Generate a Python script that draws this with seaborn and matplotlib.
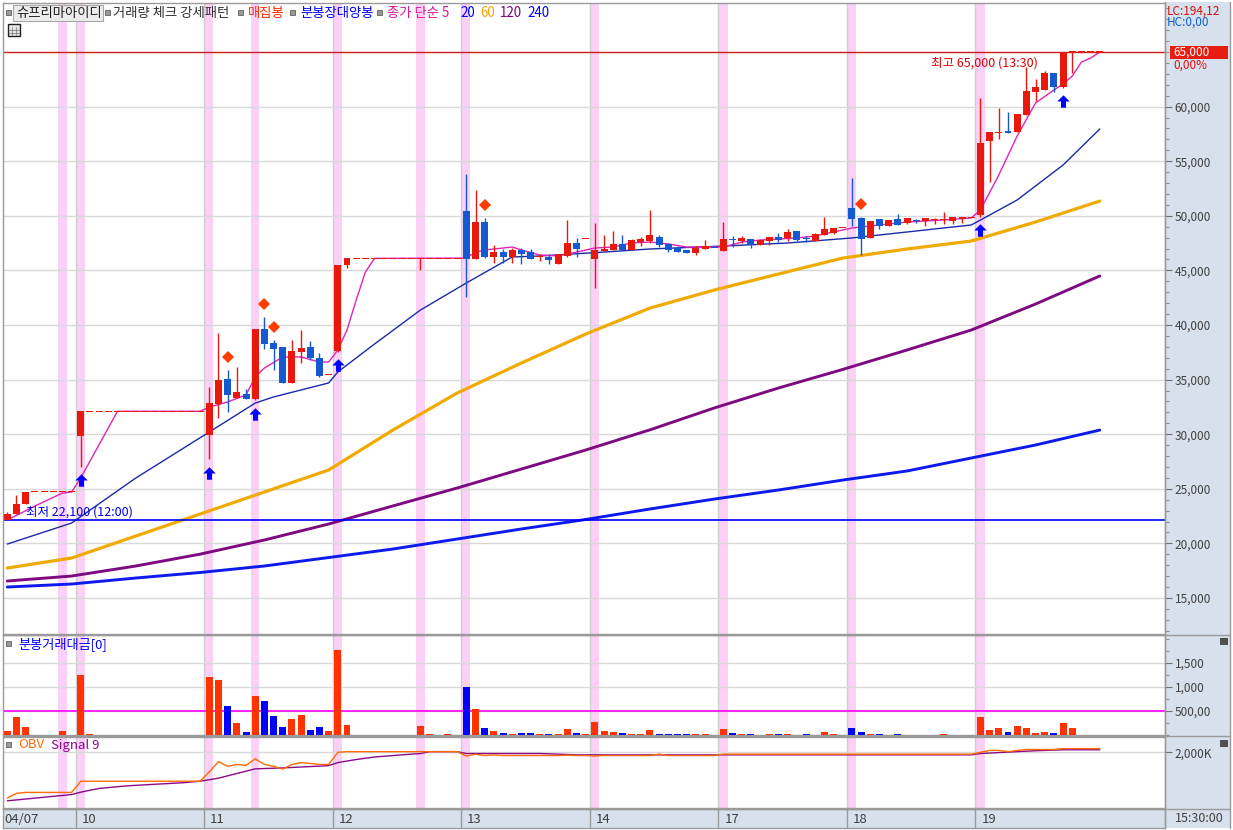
import numpy as np
import matplotlib
matplotlib.use("Agg")
import matplotlib.pyplot as plt
import seaborn as sns
from matplotlib.patches import Rectangle
from matplotlib.lines import Line2D
from matplotlib.path import Path
from matplotlib.ticker import MultipleLocator, FixedLocator
from matplotlib.transforms import offset_copy

# ---------------- data (30-minute bars, 04/07 12:00 -> 04/19 15:30) ----------------
day_labels = ['04/07', '10', '11', '12', '13', '14', '17', '18', '19']
day_start = [0, 8, 22, 36, 50, 64, 78, 92, 106]

opens = ([22100, 22700, 23600] + [24750] * 5 +
         [29850] + [32100] * 13 +
         [29900, 32750, 35050, 33300, 33700, 33200, 39650, 38350, 38000, 34700, 37550, 38000, 37000, 35500] +
         [37600, 45500] + [46100] * 12 +
         [50450, 46050, 49450, 46250, 46700, 46250, 46850, 46700, 46250, 46250, 45600, 46300, 47500, 47900] +
         [46050, 46800, 46850, 47400, 46850, 47600, 47700, 48050, 47400, 47050, 46850, 46600, 46950, 47120] +
         [46800, 47800, 47700, 47900, 47350, 47700, 48050, 47950, 48600, 47900, 47700, 48250, 48400, 48900] +
         [50700, 49800, 47950, 49700, 49050, 49700, 49350, 49600, 49500, 49700, 49700, 49500, 49700, 49800] +
         [50050, 56850, 57650, 57700, 57650, 59250, 61350, 61500, 63100, 61800, 65000, 65000, 65000, 65000])
highs = ([22900, 24400, 24750] + [24750] * 5 +
         [32100] + [32100] * 13 +
         [34300, 39250, 35900, 36150, 34150, 39650, 40750, 38650, 38000, 38650, 39550, 38550, 37450, 35500] +
         [45500, 46100] + [46100] * 12 +
         [53850, 52350, 49800, 47300, 46950, 47050, 47050, 46950, 46500, 46500, 46500, 49600, 47950, 47900] +
         [49350, 48250, 48600, 48250, 47900, 48050, 50550, 48250, 47500, 47250, 46850, 47250, 47800, 47120] +
         [49450, 48150, 48150, 47900, 47850, 48050, 48400, 48800, 48600, 48150, 48400, 49900, 48900, 48900] +
         [53450, 49900, 49500, 49700, 49600, 50150, 49800, 49700, 49800, 49800, 50350, 49900, 49900, 49800] +
         [60800, 57650, 59850, 59500, 59300, 63650, 62550, 63250, 63100, 65000, 65000, 65000, 65000, 65000])
lows = ([22100, 22700, 23600] + [24750] * 5 +
        [27000] + [32100] * 13 +
        [27700, 31500, 32050, 33300, 33200, 33100, 37800, 35900, 34700, 34700, 36500, 36800, 35250, 35500] +
        [37500, 45200] + [46100] * 7 + [45000] + [46100] * 4 +
        [42550, 46050, 46150, 45700, 45700, 45700, 45600, 46050, 45850, 45600, 45600, 46250, 46250, 47900] +
        [43400, 46800, 46850, 46850, 46850, 47250, 47500, 47150, 46700, 46700, 46600, 46400, 46950, 47100] +
        [46800, 47150, 47500, 47050, 47350, 47350, 47600, 47700, 47700, 47600, 47700, 48250, 48300, 48900] +
        [49050, 46400, 47950, 48800, 49050, 49150, 49250, 49350, 49050, 49250, 49250, 49250, 49350, 49800] +
        [49900, 53100, 57050, 57600, 57650, 59250, 60500, 61500, 61350, 61700, 63100, 65000, 65000, 65000])
closes = ([22700, 23600, 24750] + [24750] * 5 +
          [32100] + [32100] * 13 +
          [32850, 34950, 33600, 33850, 33200, 39650, 38250, 37800, 34700, 37600, 37900, 37000, 35350, 35500] +
          [45500, 46100] + [46100] * 12 +
          [46050, 49450, 46250, 46700, 46250, 46850, 46500, 46050, 46250, 45950, 46500, 47500, 46950, 47900] +
          [46850, 46950, 47400, 46850, 47800, 47900, 48250, 47350, 46850, 46700, 46600, 47050, 47250, 47100] +
          [47900, 47770, 47950, 47350, 47800, 48050, 47800, 48500, 47800, 47870, 48350, 48800, 48900, 48900] +
          [49700, 47900, 49500, 49050, 49600, 49150, 49800, 49570, 49800, 49700, 49700, 49900, 49900, 49800] +
          [56650, 57650, 57650, 57650, 59300, 61450, 61800, 63100, 61800, 65000, 65000, 65000, 65000, 65000])

# trade value per bar (백만원)
volume = ([90, 375, 167, 8, 8, 8, 90, 8] +
          [1250, 20] + [8] * 12 +
          [1215, 1145, 604, 250, 62, 820, 708, 396, 167, 333, 417, 104, 167, 90] +
          [1770, 208] + [8] * 7 + [187, 20, 8, 20, 8] +
          [1000, 542, 146, 83, 42, 21, 42, 42, 21, 21, 21, 125, 42, 21] +
          [271, 83, 62, 42, 21, 21, 104, 21, 21, 21, 21, 21, 21, 8] +
          [125, 42, 21, 21, 8, 21, 21, 21, 8, 21, 8, 62, 21, 8] +
          [146, 62, 21, 21, 8, 21, 8, 8, 8, 8, 21, 8, 8, 8] +
          [375, 104, 146, 62, 187, 146, 42, 62, 42, 250, 146, 8, 8, 8])

# moving averages (bar index, price)
ma_idx = [0, 7, 14, 21, 28, 35, 42, 49, 56, 63, 70, 77, 84, 91, 98, 105, 112, 119]
ma60 = [17745, 18660, 20675, 22690, 24705, 26720, 30380, 33770, 36520, 39170, 41550, 43200,
        44670, 46130, 46960, 47690, 49430, 51350]
ma120 = [16555, 17010, 17930, 19015, 20310, 21775, 23430, 25070, 26810, 28550, 30400, 32400,
         34230, 35930, 37710, 39540, 41920, 44490]
ma240 = [16005, 16280, 16830, 17335, 17930, 18705, 19485, 20400, 21320, 22190, 23150, 24060,
         24890, 25800, 26630, 27820, 29010, 30380]
ma20_idx = [0, 7, 14, 22, 27, 29, 35, 36, 40, 45, 50, 55, 58, 65, 70, 78, 85, 92, 100, 105, 106, 110, 115, 119]
ma20 = [19940, 21865, 25990, 30200, 32850, 33410, 34690, 35700, 38260, 41370, 43850, 46230, 46320,
        46680, 46960, 47230, 47510, 47970, 48700, 49160, 49610, 51450, 54650, 57950]
ma5_idx = [0, 3, 6, 7, 8, 12, 21, 22, 24, 26, 27, 28, 30, 32, 34, 35, 36, 37, 38, 39, 40, 50, 51, 52,
           54, 55, 56, 58, 60, 62, 64, 66, 68, 70, 72, 74, 76, 78, 80, 82, 84, 86, 88, 90, 92, 93, 95,
           98, 102, 105, 106, 108, 110, 112, 114, 115, 116, 117, 118, 119]
ma5 = [22140, 23420, 24610, 24700, 26000, 32100, 32100, 32490, 32950, 33590, 35240, 36060, 37070,
       37070, 36610, 36610, 37710, 39540, 42290, 44850, 46100, 46130, 46680, 46870, 47050, 47140,
       46870, 46410, 46320, 46680, 47050, 47140, 47510, 47600, 47420, 47140, 47140, 47140, 47600,
       47780, 47870, 47970, 48150, 48520, 48880, 48970, 49160, 49430, 49620, 49800, 50530, 53740,
       57310, 60330, 61520, 62070, 62800, 64080, 64450, 65000]

# OBV and signal (K)
obv = ([285, 460, 495] + [495] * 5 + [915] * 14 +
       [1265, 1650, 1475, 1545, 1510, 1755, 1545, 1475, 1370, 1545, 1615, 1580, 1545, 1545] +
       [2000] + [2025] * 13 +
       [1860, 1930, 1880, 1905, 1880, 1880, 1880, 1880, 1880, 1880, 1880, 1895, 1880, 1880] +
       [1860, 1880, 1880, 1880, 1880, 1880, 1880, 1930, 1880, 1880, 1880, 1880, 1880, 1880] +
       [1930] * 14 + [1930] * 14 +
       [2000, 2070, 2070, 2025, 2070, 2105, 2105, 2105, 2105, 2140, 2140, 2140, 2140, 2140])
sig_idx = [0, 7, 8, 10, 13, 16, 19, 21, 23, 25, 27, 30, 33, 35, 36, 38, 40, 43, 45, 46, 49, 50,
           58, 62, 105, 106, 108, 110, 112, 115, 119]
signal = [180, 415, 505, 645, 740, 800, 855, 915, 1030, 1205, 1380, 1415, 1465, 1500, 1615, 1730,
          1825, 1905, 1955, 2025, 2025, 1955, 1955, 1905, 1905, 1955, 1990, 2025, 2060, 2095, 2095]

pink_bars = [6, 8, 22, 27, 36, 45, 50, 64, 78, 92, 106]
diamond_bars = [24, 28, 29, 52, 93]
arrow_bars = [8, 22, 27, 36, 106, 115]

# ---------------- style ----------------
sns.set_theme(style="white")
plt.rcParams['font.family'] = ['Noto Sans CJK KR', 'DejaVu Sans']

W, H = 1233, 830
RED_C = '#e8190c'
BLUE_C = '#1458d2'
VOL_R = '#ff3300'
VOL_B = '#0000ff'
PINK = '#fdd0f7'
STRIP = '#d6e1ed'
GRID = '#d9d9d9'
FRAME = '#9a9a9a'
TXT = '#404040'


def box(x0, y0, x1, y1):
    return [x0 / W, 1 - y1 / H, (x1 - x0) / W, (y1 - y0) / H]


def ftext(x, y, s, **kw):
    kw.setdefault('va', 'center')
    fig.text(x / W, 1 - y / H, s, **kw)


fig = plt.figure(figsize=(W / 100, H / 100), dpi=100)
fig.patch.set_facecolor('white')

# right scale strip and panel separators
fig.patches.append(Rectangle((1165 / W, 1 - 828 / H), 65 / W, 826 / H, transform=fig.transFigure,
                             facecolor=STRIP, edgecolor='none', zorder=-5))
for yy in [634.5, 735.5, 808.5]:
    fig.lines.append(Line2D([3 / W, 1230 / W], [1 - yy / H] * 2, transform=fig.transFigure,
                            color=FRAME, lw=1))
fig.lines.append(Line2D([1230 / W] * 2, [1 - 2 / H, 1 - 828 / H], transform=fig.transFigure,
                        color=FRAME, lw=1))
fig.lines.append(Line2D([1165 / W] * 2, [1 - 2 / H, 1 - 828 / H], transform=fig.transFigure,
                        color=FRAME, lw=1))

ax = fig.add_axes(box(3, 3, 1165, 634))
axv = fig.add_axes(box(3, 635, 1165, 735))
axo = fig.add_axes(box(3, 737, 1165, 808))
axx = fig.add_axes(box(3, 809, 1165, 828))

xlim = (-0.47, 126.1)
for a in (ax, axv, axo, axx):
    a.set_xlim(*xlim)
    a.tick_params(axis='x', bottom=False, labelbottom=False)
    for sp in a.spines.values():
        sp.set_color(FRAME)
        sp.set_linewidth(1)
    if a is not axx:
        for b in pink_bars:
            a.axvspan(b - 0.45, b + 0.45, color=PINK, lw=0, zorder=0)
    for d in day_start[1:]:
        a.axvline(d - 0.55, color='#cfcfcf' if a is not axx else '#9a9a9a', lw=1, zorder=0.5)

# ---------------- price panel ----------------
ax.set_ylim(11703, 69487)
ax.yaxis.tick_right()
ax.yaxis.set_major_locator(FixedLocator(list(range(15000, 60001, 5000))))
ax.set_yticklabels([f'{v:,}' for v in range(15000, 60001, 5000)])
ax.yaxis.set_minor_locator(MultipleLocator(1000))
ax.tick_params(axis='y', which='major', direction='out', length=5, width=0.8, color='#707070',
               labelsize=8.5, labelcolor=TXT, pad=2, left=False, right=True)
ax.tick_params(axis='y', which='minor', direction='out', length=3, width=0.8, color='#909090',
               left=False, right=True)
ax.grid(axis='y', which='major', color=GRID, lw=1)
ax.set_axisbelow(True)

sns.lineplot(x=ma_idx, y=ma240, ax=ax, color='#0d1aee', lw=2.1, zorder=2, legend=False)
sns.lineplot(x=ma_idx, y=ma120, ax=ax, color='#7d0a80', lw=2.1, zorder=2, legend=False)
sns.lineplot(x=ma_idx, y=ma60, ax=ax, color='#f0aa00', lw=2.3, zorder=2, legend=False)
sns.lineplot(x=ma20_idx, y=ma20, ax=ax, color='#1a2aa8', lw=1.0, zorder=2, legend=False)
sns.lineplot(x=ma5_idx, y=ma5, ax=ax, color='#e024b8', lw=1.0, zorder=2, legend=False)

ax.axhline(65000, color='#c81e1e', lw=1, zorder=2.5)
ax.axhline(22100, color='#0000ff', lw=1.2, zorder=2.5)

o = np.array(opens, dtype=float)
h = np.array(highs, dtype=float)
l = np.array(lows, dtype=float)
c = np.array(closes, dtype=float)
idx = np.arange(len(o))
cols = np.where(c < o, BLUE_C, RED_C)
body_h = np.maximum(np.abs(c - o), 95)
body_b = np.where(np.abs(c - o) < 95, (o + c) / 2 - 47, np.minimum(o, c))
ax.vlines(idx, l, h, colors=cols, lw=1, zorder=3)
ax.bar(idx, body_h, bottom=body_b, width=0.76, color=cols, lw=0, zorder=4)

arrow = Path([(0, 1), (-1, 0), (-0.4, 0), (-0.4, -1), (0.4, -1), (0.4, 0), (1, 0), (0, 1)])
tr_dn = offset_copy(ax.transData, fig=fig, x=0, y=-9.5, units='points')
tr_up = offset_copy(ax.transData, fig=fig, x=0, y=9.5, units='points')
ax.plot(arrow_bars, l[arrow_bars], ls='none', marker=arrow, ms=9, color='#0000ff', mew=0,
        transform=tr_dn, zorder=5)
ax.plot(diamond_bars, h[diamond_bars], ls='none', marker='D', ms=6, color='#ff3c00', mew=0,
        transform=tr_up, zorder=5)

ax.annotate('최고 65,000 (13:30)', xy=(115, 65000), xytext=(-18, -3), textcoords='offset points',
            ha='right', va='top', color='#e00000', fontsize=9)
ax.annotate('최저 22,100 (12:00)', xy=(2.0, 22100), xytext=(0, 1.5), textcoords='offset points',
            ha='left', va='bottom', color='#0000e0', fontsize=9)

# ---------------- volume panel ----------------
axv.set_ylim(0, 2080)
vcols = np.where(c < o, VOL_B, VOL_R)
axv.bar(idx, volume, width=0.76, color=vcols, lw=0, zorder=3)
axv.axhline(500, color='#ff00ff', lw=1.2, zorder=2)
axv.yaxis.tick_right()
axv.set_yticks([500, 1000, 1500])
axv.set_yticklabels(['500,00', '1,000', '1,500'])
axv.yaxis.set_minor_locator(MultipleLocator(250))
axv.tick_params(axis='y', which='major', direction='out', length=5, width=0.8, color='#707070',
                labelsize=8.5, labelcolor=TXT, pad=2, left=False, right=True)
axv.tick_params(axis='y', which='minor', direction='out', length=3, width=0.8, color='#909090',
                left=False, right=True)
axv.grid(axis='y', which='major', color=GRID, lw=1)
axv.set_axisbelow(True)

# ---------------- OBV panel ----------------
axo.set_ylim(-90, 2575)
sns.lineplot(x=sig_idx, y=signal, ax=axo, color='#8a0a8a', lw=1.0, zorder=3, legend=False)
sns.lineplot(x=idx, y=obv, ax=axo, color='#ff6a00', lw=1.0, zorder=3, legend=False)
axo.yaxis.tick_right()
axo.set_yticks([2000])
axo.set_yticklabels(['2,000K'])
axo.tick_params(axis='y', which='major', direction='out', length=5, width=0.8, color='#707070',
                labelsize=8.5, labelcolor=TXT, pad=2, left=False, right=True)
axo.grid(axis='y', which='major', color=GRID, lw=1)
axo.set_axisbelow(True)

for a in (ax, axv, axo):
    a.set_xlabel('')
    a.set_ylabel('')

# ---------------- date strip ----------------
axx.set_facecolor(STRIP)
axx.set_ylim(0, 1)
axx.set_yticks([])
for d, lab in zip(day_start, day_labels):
    axx.text(d + 0.1 if d else -0.3, 0.45, lab, ha='left', va='center', fontsize=9.5, color=TXT)
ftext(1175, 818, '15:30:00', fontsize=9, color=TXT)

# ---------------- header / right strip texts ----------------
def square(x, y):
    fig.patches.append(Rectangle((x / W, 1 - (y + 5) / H), 5 / W, 5 / H, transform=fig.transFigure,
                                 facecolor='#9a9a9a', edgecolor='#606060', lw=0.6, zorder=6))


HF = 9.6
square(6, 10)
fig.patches.append(Rectangle((13 / W, 1 - 21 / H), 90 / W, 16 / H, transform=fig.transFigure,
                             facecolor='#ececec', edgecolor='#a8a8a8', lw=0.8, zorder=6))
ftext(16, 13, '슈프리마아이디', fontsize=HF, color='#202020', zorder=7)
square(105, 10)
ftext(113, 13, '거래량 체크 강세패턴', fontsize=HF, color='#303030', zorder=7)
square(238, 10)
ftext(248, 13, '매집봉', fontsize=HF, color='#ff2a00', zorder=7)
square(290, 10)
ftext(300, 13, '분봉장대양봉', fontsize=HF, color='#0000ff', zorder=7)
square(377, 10)
ftext(387, 13, '종가 단순 5', fontsize=HF, color='#e0159a', zorder=7)
ftext(460, 13, '20', fontsize=HF, color='#0000ff', zorder=7)
ftext(480, 13, '60', fontsize=HF, color='#f0a000', zorder=7)
ftext(500, 13, '120', fontsize=HF, color='#800080', zorder=7)
ftext(527, 13, '240', fontsize=HF, color='#0000ff', zorder=7)

# small table icon
fig.patches.append(Rectangle((8 / W, 1 - 36 / H), 12 / W, 12 / H, transform=fig.transFigure,
                             facecolor='#e8e8e8', edgecolor='#202020', lw=1, zorder=6))
for k in range(1, 3):
    fig.lines.append(Line2D([(8 + 4 * k) / W] * 2, [1 - 35 / H, 1 - 27 / H], transform=fig.transFigure,
                            color='#808080', lw=0.6, zorder=7))
    fig.lines.append(Line2D([9 / W, 19 / W], [1 - (27 + 3 * k) / H] * 2, transform=fig.transFigure,
                            color='#808080', lw=0.6, zorder=7))

ftext(1167, 11, 'LC:194,12', fontsize=8.5, color='#d01010')
ftext(1167, 22, 'HC:0,00', fontsize=8.5, color='#1060d0')
fig.patches.append(Rectangle((1170 / W, 1 - 59 / H), 58 / W, 13 / H, transform=fig.transFigure,
                             facecolor='#e81c10', edgecolor='none', zorder=6))
ftext(1173, 52, '65,000', fontsize=8.5, color='white', zorder=7)
ftext(1173, 65, '0,00%', fontsize=8.5, color='#e01010')

ftext(18, 644, '분봉거래대금[0]', fontsize=9.5, color='#0000ff')
square(6, 641)
ftext(18, 745, 'OBV', fontsize=9.5, color='#ff6a00')
ftext(51, 745, 'Signal 9', fontsize=9.5, color='#900090')
square(6, 742)

for yy in (638, 740):
    fig.patches.append(Rectangle((1220 / W, 1 - (yy + 7) / H), 8 / W, 7 / H, transform=fig.transFigure,
                                 facecolor='#505050', edgecolor='none', zorder=6))

fig.savefig('out.png', dpi=100)
